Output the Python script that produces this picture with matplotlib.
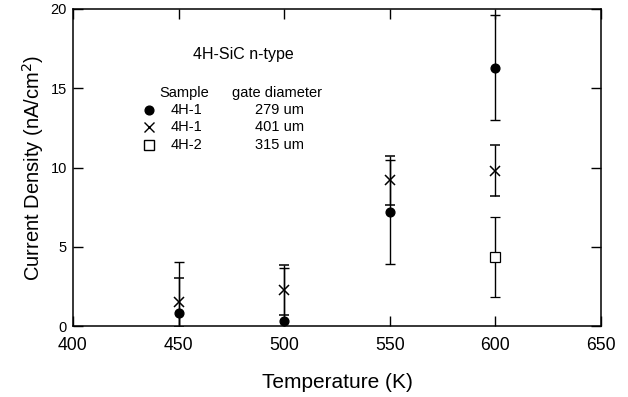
import matplotlib
matplotlib.use("Agg")
import matplotlib.pyplot as plt

plt.rcParams['font.family'] = ['Liberation Sans', 'DejaVu Sans']

# Data
temps_279 = [450, 500, 550, 600]
dens_279 = [0.85, 0.33, 7.2, 16.3]
err_279 = [3.2, 3.35, 3.3, 3.3]

temps_401 = [450, 500, 550, 600]
dens_401 = [1.5, 2.27, 9.2, 9.8]
err_401 = [1.55, 1.55, 1.55, 1.6]

temps_315 = [600]
dens_315 = [4.35]
err_315 = [2.55]

xticks = [400, 450, 500, 550, 600, 650]
yticks = [0, 5, 10, 15, 20]

fig = plt.figure(figsize=(6.28, 3.97), dpi=100)
ax = fig.add_axes([73/628, 1 - 326/397, (601-73)/628, (326-9)/397])

ekw = dict(ecolor='black', elinewidth=1.0, capsize=3.4, capthick=1.0, linestyle='none')
ax.errorbar(temps_279, dens_279, yerr=err_279, fmt='o', color='black', markersize=6.3, **ekw)
ax.errorbar(temps_401, dens_401, yerr=err_401, fmt='x', color='black', markersize=7.2, markeredgewidth=1.1, **ekw)
ax.errorbar(temps_315, dens_315, yerr=err_315, fmt='s', color='black', markerfacecolor='white',
            markersize=6.8, markeredgewidth=0.9, **ekw)

ax.set_xlim(400, 650)
ax.set_ylim(0, 20)
ax.set_xticks(xticks)
ax.set_yticks(yticks)
ax.tick_params(direction='in', length=7.2, width=1, top=True, right=True)
ax.tick_params(axis='x', labelsize=12.7, pad=7.7)
ax.tick_params(axis='y', labelsize=10.5, pad=4.5)
for s in ax.spines.values():
    s.set_linewidth(1.1)

ax.set_xlabel('Temperature (K)', fontsize=15, labelpad=14)
ax.set_ylabel('Current Density (nA/cm$^2$)', fontsize=14.5, labelpad=3)

def px(x, y):
    return x / 628, 1 - y / 397

fig.text(*px(243, 55), '4H-SiC n-type', fontsize=11.5, va='center', ha='center')
fig.text(*px(159, 93), 'Sample', fontsize=10.5, va='center', ha='left')
fig.text(*px(232, 93), 'gate diameter', fontsize=10.5, va='center', ha='left')
rows_y = [110, 127, 145]
samples = ['4H-1', '4H-1', '4H-2']
diams = ['279 um', '401 um', '315 um']
markers = [('o', 'black', 6.3), ('x', 'black', 7.2), ('s', 'white', 6.8)]
for yy, s, d, (m, fc, ms) in zip(rows_y, samples, diams, markers):
    fig.text(*px(171, yy), s, fontsize=10.5, va='center', ha='left')
    fig.text(*px(255, yy), d, fontsize=10.5, va='center', ha='left')
    fx, fy = px(149, yy)
    fig.lines.append(plt.Line2D([fx], [fy], marker=m, color='black', markerfacecolor=fc,
                                markersize=ms, markeredgewidth=1.0, linestyle='none',
                                transform=fig.transFigure, figure=fig))

fig.savefig('out.png', dpi=100)
